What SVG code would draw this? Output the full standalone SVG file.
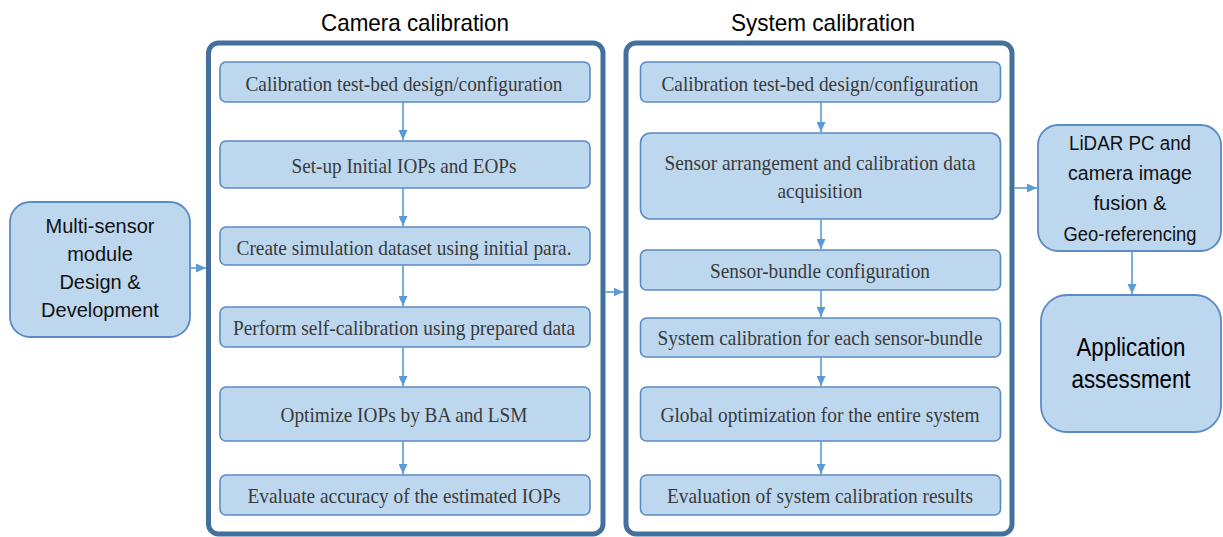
<svg xmlns="http://www.w3.org/2000/svg" width="1223" height="537" viewBox="0 0 1223 537">
<style>
.container{fill:#ffffff;stroke:#44709D;stroke-width:5}
.box{fill:#BDD7EE;stroke:#5B8BC4;stroke-width:1.6}
.side{fill:#BDD7EE;stroke:#5B8BC4;stroke-width:1.8}
.st{font-family:"Liberation Serif","Times New Roman",serif;font-size:21px;fill:#3A3A3A;text-anchor:middle}
.ss{font-family:"Liberation Sans",Arial,sans-serif;font-size:20px;fill:#111111;text-anchor:middle}
.title{font-family:"Liberation Sans",Arial,sans-serif;font-size:24px;fill:#000000;text-anchor:middle}
.app{font-family:"Liberation Sans",Arial,sans-serif;font-size:25px;fill:#000000;text-anchor:middle}
.conn{stroke:#5B9BD5;stroke-width:1.6;fill:none;marker-end:url(#ah)}
</style>
<defs>
<marker id="ah" markerUnits="userSpaceOnUse" markerWidth="10" markerHeight="9" refX="10" refY="4.5" orient="auto">
<path d="M0,0 L10,4.5 L0,9 z" fill="#5B9BD5"/>
</marker>
</defs>

<g id="title-camera"><text class="title" x="415" y="31" textLength="188" lengthAdjust="spacingAndGlyphs">Camera calibration</text></g>
<g id="title-system"><text class="title" x="823" y="31" textLength="184" lengthAdjust="spacingAndGlyphs">System calibration</text></g>

<g id="camera-calibration"><rect class="container" x="208.5" y="43" width="394.5" height="491" rx="10"/></g>
<g id="system-calibration"><rect class="container" x="626" y="43" width="386" height="491" rx="10"/></g>

<g id="multi-sensor">
<rect class="side" x="10" y="202" width="180" height="135" rx="20"/>
<text class="ss" x="100" y="233">Multi-sensor</text>
<text class="ss" x="100" y="261">module</text>
<text class="ss" x="100" y="289">Design &amp;</text>
<text class="ss" x="100" y="317">Development</text>
</g>

<g id="cam1"><rect class="box" x="220" y="62" width="370" height="40" rx="6"/><text class="st" x="404" y="91" textLength="317" lengthAdjust="spacingAndGlyphs">Calibration test-bed design/configuration</text></g>
<g id="cam2"><rect class="box" x="220" y="141" width="370" height="47" rx="6"/><text class="st" x="404" y="173" textLength="225" lengthAdjust="spacingAndGlyphs">Set-up Initial IOPs and EOPs</text></g>
<g id="cam3"><rect class="box" x="220" y="227" width="370" height="38" rx="6"/><text class="st" x="404" y="255" textLength="335" lengthAdjust="spacingAndGlyphs">Create simulation dataset using initial para.</text></g>
<g id="cam4"><rect class="box" x="220" y="307" width="370" height="40" rx="6"/><text class="st" x="404" y="335" textLength="342" lengthAdjust="spacingAndGlyphs">Perform self-calibration using prepared data</text></g>
<g id="cam5"><rect class="box" x="220" y="387" width="370" height="54" rx="6"/><text class="st" x="404" y="422" textLength="247" lengthAdjust="spacingAndGlyphs">Optimize IOPs by BA and LSM</text></g>
<g id="cam6"><rect class="box" x="220" y="475" width="370" height="40" rx="6"/><text class="st" x="404" y="503" textLength="313" lengthAdjust="spacingAndGlyphs">Evaluate accuracy of the estimated IOPs</text></g>

<g id="sys1"><rect class="box" x="640.5" y="62" width="360" height="40" rx="6"/><text class="st" x="820" y="91" textLength="317" lengthAdjust="spacingAndGlyphs">Calibration test-bed design/configuration</text></g>
<g id="sys2"><rect class="box" x="640.5" y="133" width="360" height="86" rx="10"/><text class="st" x="820" y="170" textLength="311" lengthAdjust="spacingAndGlyphs">Sensor arrangement and calibration data</text><text class="st" x="820" y="198" textLength="85" lengthAdjust="spacingAndGlyphs">acquisition</text></g>
<g id="sys3"><rect class="box" x="640.5" y="250" width="360" height="40" rx="6"/><text class="st" x="820" y="278" textLength="220" lengthAdjust="spacingAndGlyphs">Sensor-bundle configuration</text></g>
<g id="sys4"><rect class="box" x="640.5" y="318" width="360" height="39" rx="6"/><text class="st" x="820" y="345" textLength="325" lengthAdjust="spacingAndGlyphs">System calibration for each sensor-bundle</text></g>
<g id="sys5"><rect class="box" x="640.5" y="387" width="360" height="54" rx="6"/><text class="st" x="820" y="422" textLength="319" lengthAdjust="spacingAndGlyphs">Global optimization for the entire system</text></g>
<g id="sys6"><rect class="box" x="640.5" y="475" width="360" height="40" rx="6"/><text class="st" x="820" y="503" textLength="306" lengthAdjust="spacingAndGlyphs">Evaluation of system calibration results</text></g>

<g id="lidar">
<rect class="side" x="1038" y="125" width="183" height="126" rx="20"/>
<text class="ss" x="1130" y="150" textLength="122" lengthAdjust="spacingAndGlyphs">LiDAR PC and</text>
<text class="ss" x="1130" y="180" textLength="124" lengthAdjust="spacingAndGlyphs">camera image</text>
<text class="ss" x="1130" y="210" textLength="73" lengthAdjust="spacingAndGlyphs">fusion &amp;</text>
<text class="ss" x="1130" y="241" textLength="133" lengthAdjust="spacingAndGlyphs">Geo-referencing</text>
</g>

<g id="application">
<rect class="side" x="1041" y="295" width="180" height="137" rx="26"/>
<text class="app" x="1131" y="356" textLength="109" lengthAdjust="spacingAndGlyphs">Application</text>
<text class="app" x="1131" y="388" textLength="119" lengthAdjust="spacingAndGlyphs">assessment</text>
</g>

<g id="connectors">
<line class="conn" x1="190" y1="268" x2="206" y2="268"/>
<line class="conn" x1="605.5" y1="292" x2="623.5" y2="292"/>
<line class="conn" x1="1014.5" y1="188" x2="1037" y2="188"/>
<line class="conn" x1="1132" y1="251" x2="1132" y2="294"/>
<line class="conn" x1="403" y1="102" x2="403" y2="140"/>
<line class="conn" x1="403" y1="188" x2="403" y2="226"/>
<line class="conn" x1="403" y1="265" x2="403" y2="306"/>
<line class="conn" x1="403" y1="347" x2="403" y2="386"/>
<line class="conn" x1="403" y1="441" x2="403" y2="474"/>
<line class="conn" x1="821" y1="102" x2="821" y2="132"/>
<line class="conn" x1="821" y1="219" x2="821" y2="249"/>
<line class="conn" x1="821" y1="290" x2="821" y2="317"/>
<line class="conn" x1="821" y1="357" x2="821" y2="386"/>
<line class="conn" x1="821" y1="441" x2="821" y2="474"/>
</g>
</svg>
